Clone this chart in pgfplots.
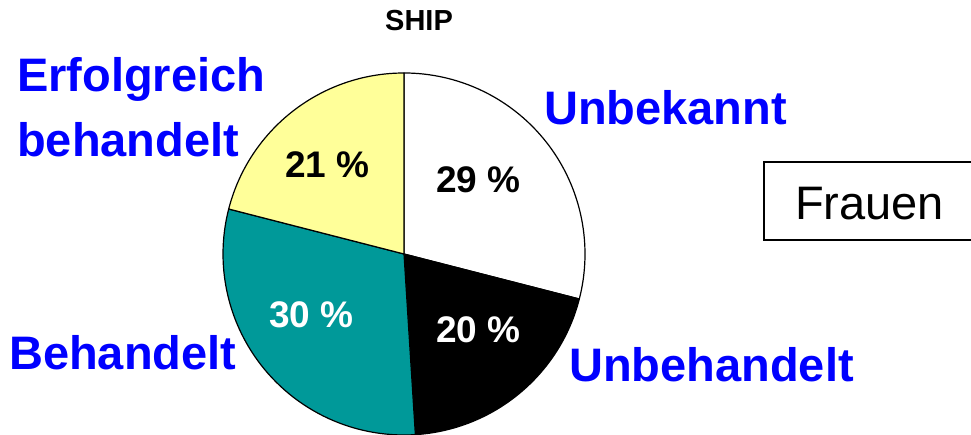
\documentclass[border=0pt]{standalone}
\usepackage{pgfplots}
\pgfplotsset{compat=1.18}
\usepackage{fontspec}
\setmainfont{Liberation Sans}
\definecolor{shipteal}{HTML}{009999}
\definecolor{shipyellow}{HTML}{FFFF99}
\definecolor{shipblue}{HTML}{0000FF}
\begin{document}
\begin{tikzpicture}
\begin{axis}[
  at={(0pt,0pt)}, anchor=south west,
  width=971pt, height=435pt, scale only axis,
  xmin=0, xmax=971, ymin=0, ymax=435,
  hide axis, clip=false,
]
% pie shares (percent), clockwise from 12 o'clock
\pgfplotsextra{
  \gdef\ang{90}
  \foreach \p/\c in {29/white,20/black,30/shipteal,21/shipyellow}{
    \pgfmathsetmacro\endang{\ang-3.6*\p}
    \filldraw[fill=\c, draw=black, line width=1.2pt, line join=round]
      (axis cs:404,181) -- ([shift={(\ang:181pt)}]axis cs:404,181)
      arc[start angle=\ang, end angle=\endang, radius=181pt] -- cycle;
    \global\let\ang\endang
  }
  \draw[line width=1.2pt] (axis cs:764,195) rectangle (axis cs:975,273);
}
\node[anchor=base, font=\bfseries\fontsize{29}{34}\selectfont] at (axis cs:419,404) {SHIP};
\node[anchor=base west, inner sep=0pt, text=shipblue, font=\bfseries\fontsize{47}{56}\selectfont] at (axis cs:17,343) {Erfolgreich};
\node[anchor=base west, inner sep=0pt, text=shipblue, font=\bfseries\fontsize{47}{56}\selectfont] at (axis cs:17,278) {behandelt};
\node[anchor=base west, inner sep=0pt, text=shipblue, font=\bfseries\fontsize{47}{56}\selectfont] at (axis cs:544,310) {Unbekannt};
\node[anchor=base west, inner sep=0pt, text=shipblue, font=\bfseries\fontsize{47}{56}\selectfont] at (axis cs:569,53) {Unbehandelt};
\node[anchor=base west, inner sep=0pt, text=shipblue, font=\bfseries\fontsize{47}{56}\selectfont] at (axis cs:9,65) {Behandelt};
\node[anchor=base west, inner sep=0pt, font=\bfseries\fontsize{37}{44}\selectfont] at (axis cs:285,257) {21 \%};
\node[anchor=base west, inner sep=0pt, font=\bfseries\fontsize{37}{44}\selectfont] at (axis cs:436,242) {29 \%};
\node[anchor=base west, inner sep=0pt, text=white, font=\bfseries\fontsize{37}{44}\selectfont] at (axis cs:269,107) {30 \%};
\node[anchor=base west, inner sep=0pt, text=white, font=\bfseries\fontsize{37}{44}\selectfont] at (axis cs:436,92) {20 \%};
\node[anchor=base west, inner sep=0pt, font=\fontsize{47}{56}\selectfont] at (axis cs:795,215) {Frauen};
\end{axis}
\pgfresetboundingbox
\useasboundingbox (0pt,0pt) rectangle (971pt,435pt);
\end{tikzpicture}
\end{document}
